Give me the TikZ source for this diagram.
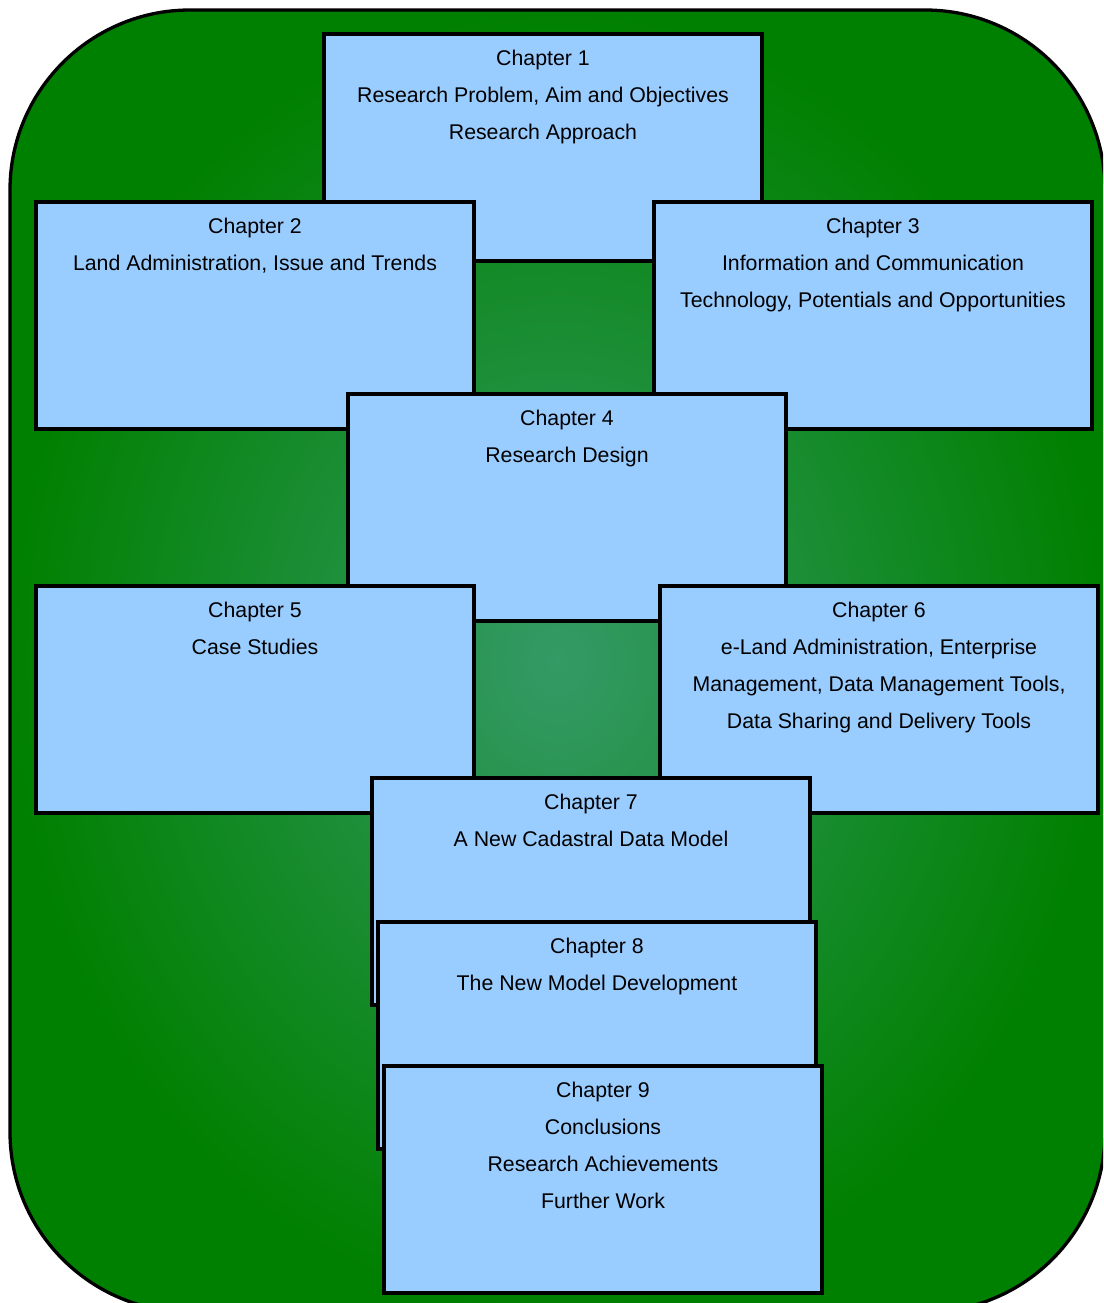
\documentclass[tikz,border=0pt]{standalone}
\usepackage{fontspec}
\setmainfont{Liberation Sans}
\definecolor{boxblue}{RGB}{153,204,255}
\definecolor{bgdark}{RGB}{0,128,0}
\definecolor{bglight}{RGB}{52,154,102}
\tikzset{
  chbox/.style={draw=black, line width=3.3pt, fill=boxblue, anchor=north west,
    minimum width=438pt, minimum height=227pt, inner sep=0pt, outer sep=0pt},
  chtext/.style={anchor=north, align=center, inner sep=0pt, yshift=-16pt,
    font=\fontsize{21.3}{37}\selectfont, text=black},
  panel/.style={draw=black, line width=3.3pt, rounded corners=180pt,
    inner color=bglight, outer color=bgdark}
}
\begin{document}
\begin{tikzpicture}[x=1pt, y=-1pt]
  \useasboundingbox (0,0) rectangle (1103,1303);
  \clip (0,0) rectangle (1103,1303);
  % green rounded panel behind the chapter boxes
  \path[panel] (10,10) rectangle (1105,1312);

  % chapter boxes, later ones drawn on top of earlier ones
  \node[chbox] (c1) at (324,34) {};
  \node[chtext] (t1) at (c1.north) {Chapter 1\\Research Problem, Aim and Objectives\\Research Approach};

  \node[chbox] (c2) at (36,202) {};
  \node[chtext] (t2) at (c2.north) {Chapter 2\\Land Administration, Issue and Trends};

  \node[chbox] (c3) at (654,202) {};
  \node[chtext] (t3) at (c3.north) {Chapter 3\\Information and Communication\\Technology, Potentials and Opportunities};

  \node[chbox] (c4) at (348,394) {};
  \node[chtext] (t4) at (c4.north) {Chapter 4\\Research Design};

  \node[chbox] (c5) at (36,586) {};
  \node[chtext] (t5) at (c5.north) {Chapter 5\\Case Studies};

  \node[chbox] (c6) at (660,586) {};
  \node[chtext] (t6) at (c6.north) {Chapter 6\\e-Land Administration, Enterprise\\Management, Data Management Tools,\\Data Sharing and Delivery Tools};

  \node[chbox] (c7) at (372,778) {};
  \node[chtext] (t7) at (c7.north) {Chapter 7\\A New Cadastral Data Model};

  \node[chbox] (c8) at (378,922) {};
  \node[chtext] (t8) at (c8.north) {Chapter 8\\The New Model Development};

  \node[chbox] (c9) at (384,1066) {};
  \node[chtext] (t9) at (c9.north) {Chapter 9\\Conclusions\\Research Achievements\\Further Work};
\end{tikzpicture}
\end{document}
